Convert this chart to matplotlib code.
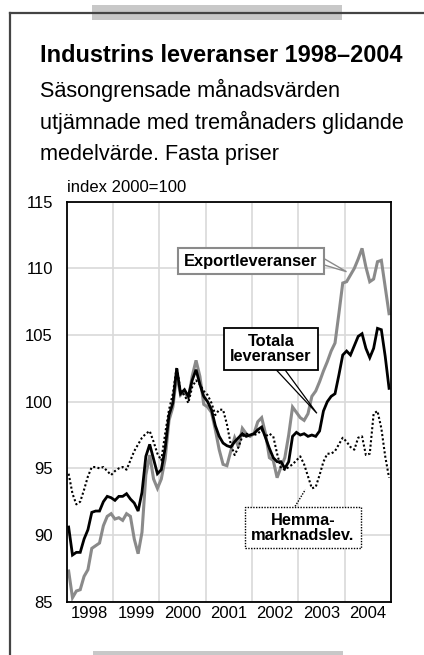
import matplotlib
matplotlib.use("Agg")
import matplotlib.pyplot as plt
from matplotlib.patches import Rectangle, Polygon
from matplotlib.lines import Line2D
import numpy as np

plt.rcParams["font.family"] = ["Liberation Sans Narrow", "Liberation Sans", "DejaVu Sans"]

# monthly values, Jan 1998 - Dec 2004 (index 2000=100)
export = [
    87.3, 85.3, 85.8, 85.9, 86.9, 87.4, 89.0, 89.2, 89.4, 90.7, 91.4, 91.6,
    91.2, 91.3, 91.1, 91.6, 91.4, 89.7, 88.6, 90.2, 94.5, 96.0, 94.2, 93.5,
    94.2, 95.7, 98.6, 99.6, 102.0, 100.5, 100.8, 100.2, 101.9, 103.1, 101.9, 99.8,
    99.6, 99.2, 97.9, 96.4, 95.3, 95.2, 96.3, 97.3, 96.6, 98.0, 97.6, 97.4,
    97.6, 98.5, 98.8, 97.6, 95.8, 95.6, 94.3, 95.1, 95.8, 97.5, 99.6, 99.2,
    98.8, 98.6, 99.1, 100.4, 100.8, 101.5, 102.3, 103.0, 103.8, 104.4, 106.6, 108.9,
    109.0, 109.5, 110.0, 110.7, 111.5, 110.1, 109.0, 109.2, 110.5, 110.6, 108.6, 106.6,
]
total = [
    90.6, 88.5, 88.7, 88.7, 89.7, 90.4, 91.7, 91.8, 91.8, 92.5, 92.9, 92.8,
    92.6, 92.9, 92.9, 93.1, 92.7, 92.4, 91.8, 93.2, 95.9, 96.8, 95.7, 94.6,
    94.9, 96.5, 99.0, 99.9, 102.5, 100.6, 100.9, 100.4, 101.6, 102.4, 101.3, 100.4,
    100.0, 99.4, 98.2, 97.4, 96.9, 96.7, 96.6, 97.0, 97.3, 97.6, 97.4, 97.5,
    97.6, 97.9, 98.1, 97.3, 96.5, 95.8, 95.5, 95.5, 95.0, 95.5, 97.4, 97.7,
    97.5, 97.6, 97.4, 97.5, 97.4, 97.8, 99.3, 100.0, 100.4, 100.6, 102.0, 103.5,
    103.8, 103.5, 104.2, 104.9, 105.1, 104.0, 103.3, 104.0, 105.5, 105.4, 103.4, 101.0,
]
home = [
    94.6, 93.1, 92.3, 92.5, 93.4, 94.4, 95.1, 95.1, 95.0, 95.1, 94.8, 94.5,
    94.8, 95.0, 95.1, 94.9, 95.6, 96.3, 96.8, 97.3, 97.6, 97.8, 97.0, 96.1,
    95.6, 97.6, 99.4, 100.6, 102.6, 100.8, 100.5, 99.9, 101.1, 101.6, 101.3, 100.8,
    100.5, 99.9, 99.0, 99.4, 99.4, 98.3, 96.8, 96.0, 96.6, 97.4, 97.6, 97.5,
    97.5, 97.6, 97.9, 97.4, 97.6, 97.4, 96.1, 95.0, 94.9, 95.1, 95.3, 95.6,
    95.9, 95.3, 94.4, 93.5, 93.6, 94.5, 95.5, 96.1, 96.1, 96.3, 96.8, 97.3,
    97.0, 96.6, 96.4, 97.3, 97.4, 96.0, 96.1, 99.1, 99.3, 98.0, 95.9, 94.3,
]
years = [1998, 1999, 2000, 2001, 2002, 2003, 2004]
yticks = [85, 90, 95, 100, 105, 110, 115]

W, H = 424, 655
fig = plt.figure(figsize=(W / 100, H / 100), dpi=100)


def fx(x):
    return x / W


def fy(y):
    return 1 - y / H


def fit_width(texts, target_px, extra=1.0):
    # scale font size so the widest text is about target_px wide
    r = fig.canvas.get_renderer()
    w = max(t.get_window_extent(r).width for t in texts)
    for t in texts:
        t.set_fontsize(t.get_fontsize() * target_px / w * extra)


# frame around the graphic
fig.add_artist(Line2D([fx(10), fx(10)], [fy(13), fy(660)], color="#444444", lw=1.6))
fig.add_artist(Line2D([fx(10), fx(423)], [fy(13), fy(13)], color="#444444", lw=1.6))
fig.add_artist(Rectangle((fx(92), fy(20)), fx(250), 15 / H, color="#c8c8c8", lw=0))
fig.add_artist(Rectangle((fx(93), fy(660)), fx(250), 9 / H, color="#c8c8c8", lw=0))

title = fig.text(fx(40), fy(62), "Industrins leveranser 1998–2004", fontsize=19.5,
                 fontweight="bold", va="baseline", ha="left")
fit_width([title], 362)
sub = ["Säsongrensade månadsvärden",
       "utjämnade med tremånaders glidande",
       "medelvärde. Fasta priser"]
sub_txt = []
for k, line in enumerate(sub):
    sub_txt.append(fig.text(fx(40), fy(97 + 31.5 * k), line, fontsize=17.3,
                            va="baseline", ha="left"))
fit_width(sub_txt, 364)

ax = fig.add_axes([fx(66.7), fy(601.7), (391 - 66.7) / W, 400 / H])
x = 1998 + (np.arange(len(total)) + 0.5) / 12

ax.plot(x, export, color="#8a8a8a", lw=2.2, solid_joinstyle="miter")
ax.plot(x, total, color="black", lw=2.0, solid_joinstyle="miter")
ax.plot(x, home, color="black", lw=1.5, linestyle=(0, (1, 1.1)))

ax.set_xlim(1998, 2005)
ax.set_ylim(85, 115)
ax.set_yticks(yticks)
ax.set_xticks(years[1:], minor=False)
ax.set_xticklabels([])
ax.set_xticks([yr + 0.5 for yr in years], minor=True)
ax.set_xticklabels([str(yr) for yr in years], minor=True)
ax.grid(True, which="major", color="#d9d9d9", lw=1.2)
ax.set_axisbelow(True)
ax.tick_params(which="both", length=0, labelsize=12)
ax.tick_params(axis="y", pad=10)
ax.tick_params(axis="x", which="minor", pad=3)
for s in ax.spines.values():
    s.set_linewidth(1.3)

ax.text(1998.0, 115.5, "index 2000=100", fontsize=12, ha="left", va="bottom")

# callouts
ax.add_patch(Polygon([(2003.56, 110.72), (2003.56, 110.25), (2004.04, 109.75)],
                     closed=True, fc="white", ec="#8a8a8a", lw=1.0, zorder=5))
ax.add_patch(Rectangle((2000.40, 109.55), 3.16, 1.95, fc="white", ec="#8a8a8a",
                       lw=1.5, zorder=6))
ax.text(2001.98, 110.5, "Exportleveranser", fontsize=11.8, fontweight="bold",
        ha="center", va="center", zorder=7)

ax.add_patch(Polygon([(2002.52, 102.4), (2002.71, 102.4), (2003.40, 99.13)],
                     closed=True, fc="white", ec="black", lw=0.9, zorder=5))
ax.add_patch(Rectangle((2001.40, 102.4), 2.03, 3.1, fc="white", ec="black",
                       lw=1.3, zorder=6))
ax.text(2002.41, 103.95, "Totala\nleveranser", fontsize=11.8, fontweight="bold",
        ha="center", va="center", linespacing=1.0, zorder=7)

ax.plot([2002.93, 2003.15], [92.15, 93.4], color="black", lw=1.0,
        linestyle=(0, (1, 1)), zorder=5)
ax.add_patch(Rectangle((2001.85, 89.0), 2.5, 3.12, fc="white", ec="black",
                       lw=1.0, linestyle=(0, (1, 1)), zorder=6))
ax.text(2003.10, 90.55, "Hemma-\nmarknadslev.", fontsize=11.8, fontweight="bold",
        ha="center", va="center", linespacing=1.0, zorder=7)

fig.savefig("out.png", dpi=100)
